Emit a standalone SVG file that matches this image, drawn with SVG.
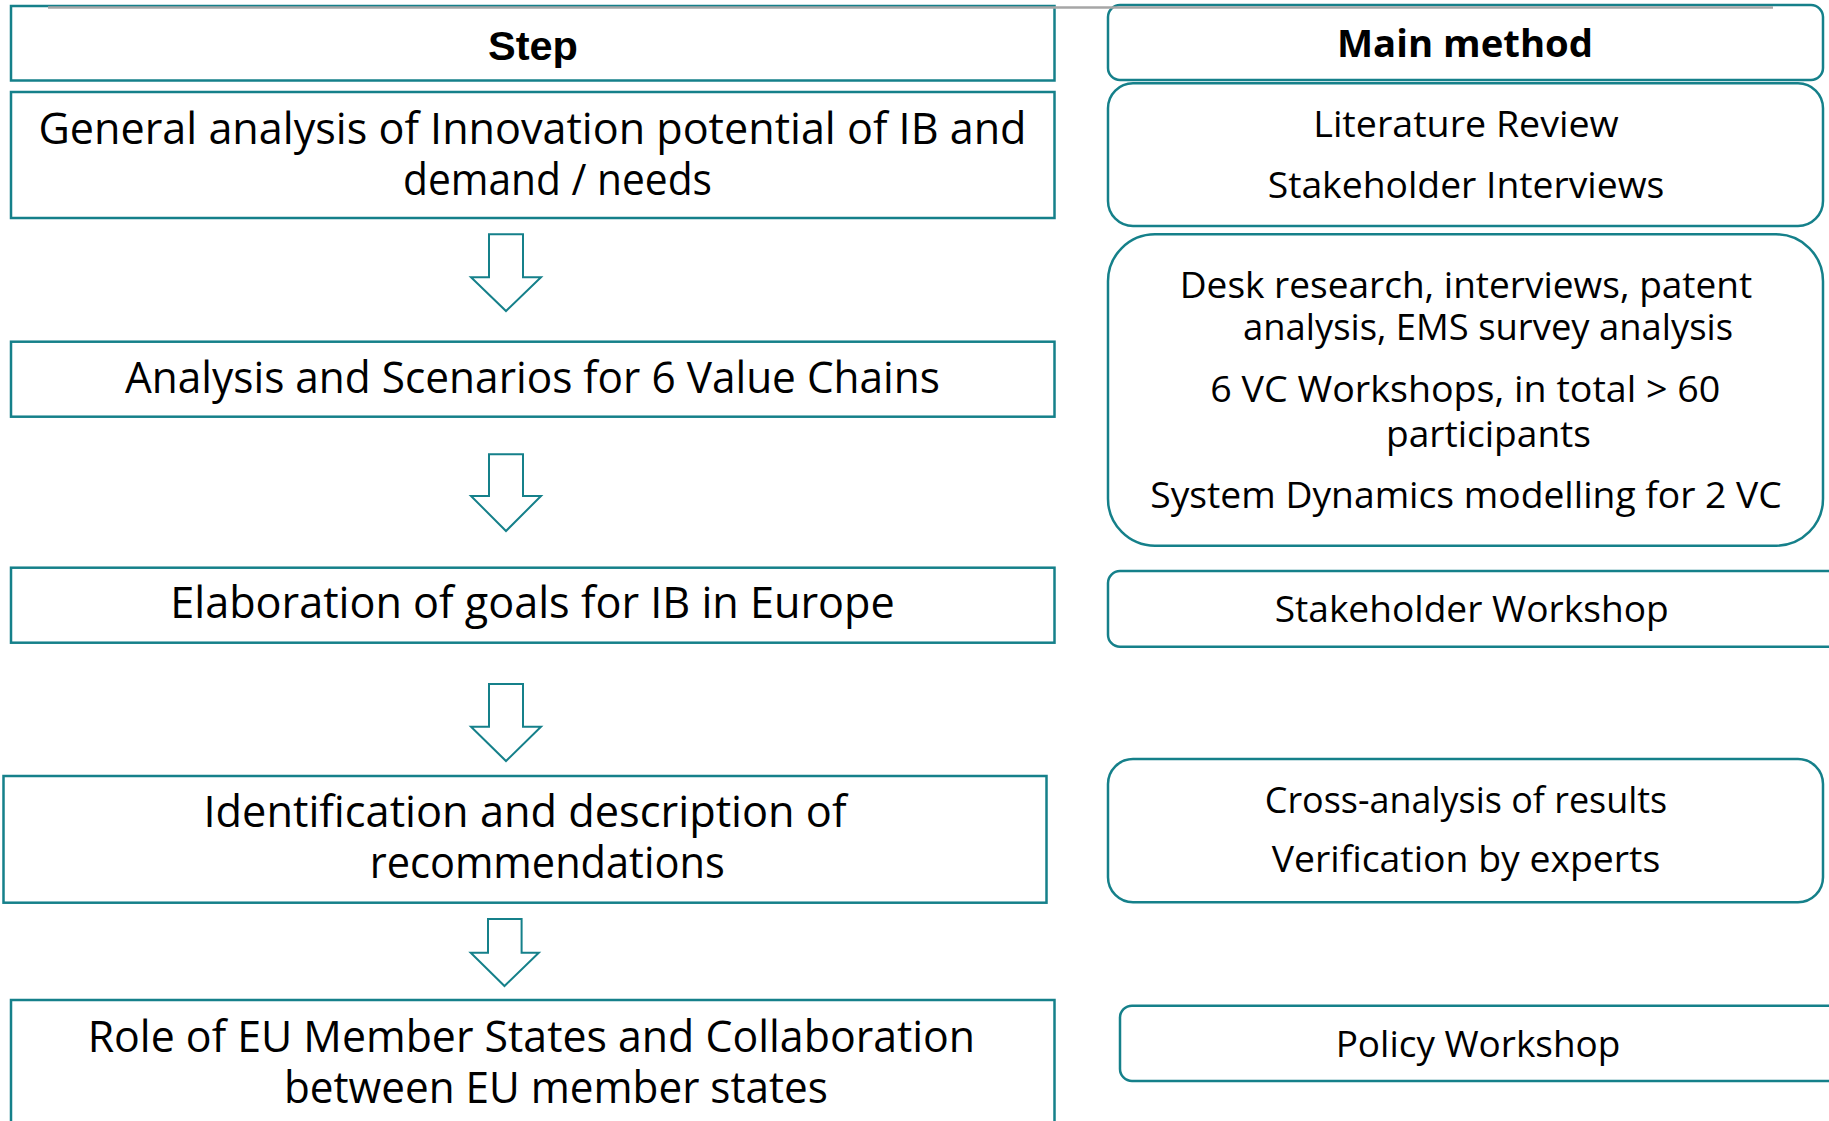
<svg xmlns="http://www.w3.org/2000/svg" width="1829" height="1121" viewBox="0 0 1829 1121">
<style>
.box{fill:#fff;stroke:#15808a;stroke-width:2.5}
.arr{fill:#fff;stroke:#15808a;stroke-width:2;stroke-linejoin:miter}
.tl{font-family:"Open Sans","Noto Sans","DejaVu Sans",sans-serif;font-size:44px;fill:#000;text-anchor:middle}
.tr{font-family:"Open Sans","Noto Sans","DejaVu Sans",sans-serif;font-size:37px;fill:#000;text-anchor:middle}
.hb{font-family:"Liberation Sans",Arial,sans-serif;font-size:40px;font-weight:bold;fill:#000;text-anchor:middle}
.hm{font-family:"Open Sans","Noto Sans",sans-serif;font-size:37px;font-weight:bold;fill:#000;text-anchor:middle}
</style>
<rect width="1829" height="1121" fill="#fff"/>
<g id="step-header">
<rect class="box" x="11" y="6" width="1043.5" height="74.5"/>
<text class="hb" x="533" y="60" textLength="90" lengthAdjust="spacingAndGlyphs">Step</text>
</g>
<g id="method-header">
<rect class="box" x="1108" y="5" width="715" height="75" rx="12"/>
<text class="hm" x="1465" y="56.7" textLength="256" lengthAdjust="spacingAndGlyphs">Main method</text>
</g>
<g id="step1">
<rect class="box" x="11" y="92" width="1043.5" height="126"/>
<text class="tl" x="532.5" y="144" textLength="988" lengthAdjust="spacingAndGlyphs">General analysis of Innovation potential of IB and</text>
<text class="tl" x="557.5" y="195" textLength="309" lengthAdjust="spacingAndGlyphs">demand / needs</text>
</g>
<g id="method1">
<rect class="box" x="1108" y="83.3" width="715" height="142.7" rx="25"/>
<text class="tr" x="1466" y="136.7" textLength="305.5" lengthAdjust="spacingAndGlyphs">Literature Review</text>
<text class="tr" x="1466" y="198" textLength="396.6" lengthAdjust="spacingAndGlyphs">Stakeholder Interviews</text>
</g>
<g id="step2">
<rect class="box" x="11" y="341.7" width="1043.5" height="75"/>
<text class="tl" x="532.5" y="393.3" textLength="815" lengthAdjust="spacingAndGlyphs">Analysis and Scenarios for 6 Value Chains</text>
</g>
<g id="method2">
<rect class="box" x="1108" y="234.3" width="715" height="311.4" rx="47"/>
<text class="tr" x="1466" y="297.5" textLength="572.5" lengthAdjust="spacingAndGlyphs">Desk research, interviews, patent</text>
<text class="tr" x="1488" y="340" textLength="490" lengthAdjust="spacingAndGlyphs">analysis, EMS survey analysis</text>
<text class="tr" x="1465.3" y="402.3" textLength="510" lengthAdjust="spacingAndGlyphs">6 VC Workshops, in total &gt; 60</text>
<text class="tr" x="1488.5" y="446.7" textLength="205" lengthAdjust="spacingAndGlyphs">participants</text>
<text class="tr" x="1466" y="508.3" textLength="631.5" lengthAdjust="spacingAndGlyphs">System Dynamics modelling for 2 VC</text>
</g>
<g id="step3">
<rect class="box" x="11" y="567.7" width="1043.5" height="75"/>
<text class="tl" x="532.5" y="618.3" textLength="724.5" lengthAdjust="spacingAndGlyphs">Elaboration of goals for IB in Europe</text>
</g>
<g id="method3">
<rect class="box" x="1108" y="571" width="740" height="75.7" rx="12"/>
<text class="tr" x="1471.7" y="621.7" textLength="394" lengthAdjust="spacingAndGlyphs">Stakeholder Workshop</text>
</g>
<g id="step4">
<rect class="box" x="3.5" y="776" width="1043" height="126.7"/>
<text class="tl" x="525" y="826.7" textLength="643" lengthAdjust="spacingAndGlyphs">Identification and description of</text>
<text class="tl" x="547.2" y="878.3" textLength="355" lengthAdjust="spacingAndGlyphs">recommendations</text>
</g>
<g id="method4">
<rect class="box" x="1108" y="759" width="715" height="143.3" rx="25"/>
<text class="tr" x="1466" y="813.3" textLength="402.5" lengthAdjust="spacingAndGlyphs">Cross-analysis of results</text>
<text class="tr" x="1466" y="872.3" textLength="388.5" lengthAdjust="spacingAndGlyphs">Verification by experts</text>
</g>
<g id="step5">
<rect class="box" x="11" y="1000" width="1043.5" height="140"/>
<text class="tl" x="531.4" y="1051.7" textLength="887.5" lengthAdjust="spacingAndGlyphs">Role of EU Member States and Collaboration</text>
<text class="tl" x="555.9" y="1103.3" textLength="544" lengthAdjust="spacingAndGlyphs">between EU member states</text>
</g>
<g id="method5">
<rect class="box" x="1120" y="1005.7" width="730" height="75.3" rx="12"/>
<text class="tr" x="1478" y="1056.7" textLength="284.7" lengthAdjust="spacingAndGlyphs">Policy Workshop</text>
</g>
<g id="connectors">
<path class="arr" d="M489,234.3 H523 V277.3 H541 L506,311 L471,277.3 H489 Z"/>
<path class="arr" d="M489,454.3 H523 V496 H541 L506,531 L471,496 H489 Z"/>
<path class="arr" d="M489,684 H523 V726.7 H541 L506,761 L471,726.7 H489 Z"/>
<path class="arr" d="M488,919 H521.6 V952.7 H538.8 L504.5,986 L470.7,952.7 H488 Z"/>
</g>
<line x1="48" y1="7.5" x2="1773" y2="7.5" stroke="#a6a6a6" stroke-width="2.5"/>
</svg>
